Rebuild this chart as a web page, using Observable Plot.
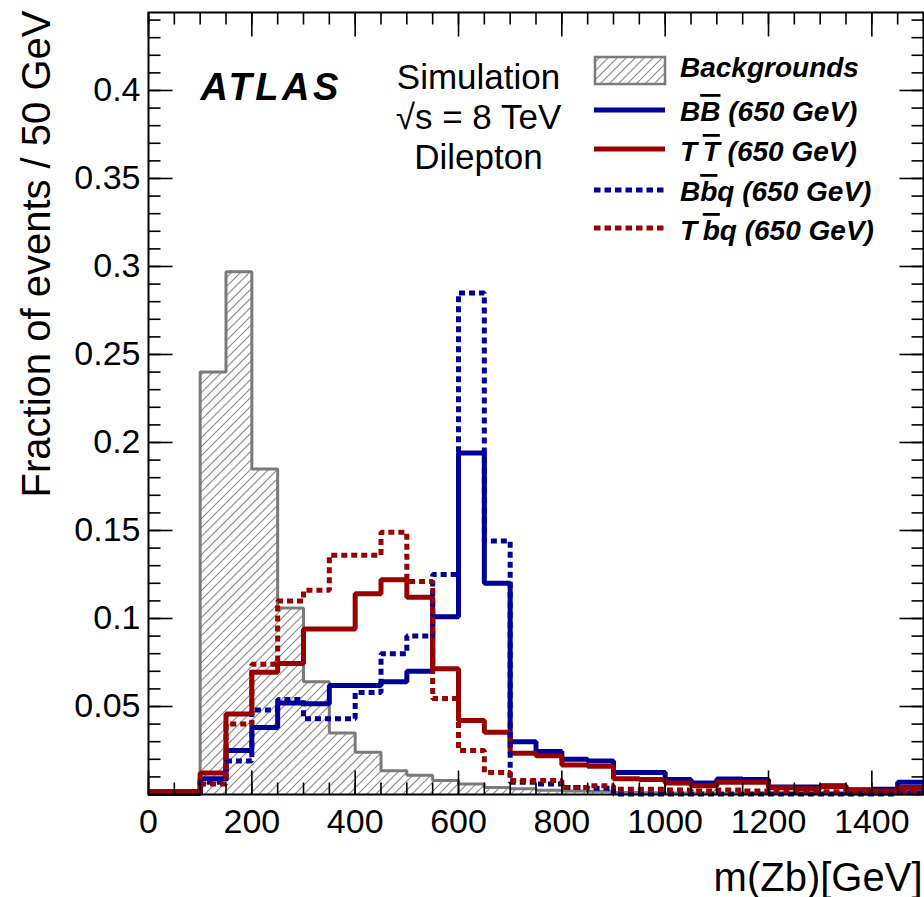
<!DOCTYPE html>
<html>
<head>
<meta charset="utf-8">
<script src="https://cdn.jsdelivr.net/npm/d3@7"></script>
<script src="https://cdn.jsdelivr.net/npm/@observablehq/plot@0.6"></script>
<style>
html, body { margin: 0; padding: 0; background: #fff; }
#chart svg { display: block; }
</style>
</head>
<body>
<div id="chart"></div>
<script>
// ---- data (fraction of events per 50 GeV bin; lower bin edges) ----
const binEdges = [0, 50, 100, 150, 200, 250, 300, 350, 400, 450, 500, 550, 600, 650, 700,
                  750, 800, 850, 900, 950, 1000, 1050, 1100, 1150, 1200, 1250, 1300, 1350, 1400, 1450];
const binUpper = 1500;

const backgrounds = [0.0005, 0.0008, 0.240, 0.297, 0.185, 0.106, 0.064, 0.035, 0.024, 0.0135,
                     0.011, 0.008, 0.006, 0.004, 0.0032, 0.0024, 0.002, 0.0018, 0.0012, 0.001,
                     0.0009, 0.0008, 0.0006, 0.0005, 0.0005, 0.0004, 0.0004, 0.0003, 0.0003, 0.0003];
const BB = [0.0005, 0.0005, 0.009, 0.025, 0.038, 0.052, 0.0515, 0.062, 0.062, 0.064,
            0.070, 0.101, 0.194, 0.120, 0.030, 0.0245, 0.020, 0.019, 0.0125, 0.0125,
            0.0085, 0.0065, 0.0088, 0.0085, 0.0042, 0.0042, 0.005, 0.0027, 0.003, 0.007];
const TT = [0.0017, 0.0017, 0.0122, 0.0458, 0.0695, 0.0745, 0.094, 0.094, 0.114, 0.122,
            0.112, 0.0715, 0.042, 0.0354, 0.0235, 0.022, 0.0168, 0.016, 0.009, 0.0085,
            0.0065, 0.005, 0.007, 0.007, 0.0038, 0.0032, 0.0045, 0.0023, 0.002, 0.004];
const Bbq = [0.0005, 0.0005, 0.007, 0.019, 0.048, 0.054, 0.043, 0.043, 0.058, 0.080,
             0.090, 0.125, 0.285, 0.144, 0.007, 0.006, 0.004, 0.0035, 0.0003, 0.0003,
             0.0003, 0.0003, 0.0003, 0.0003, 0.0003, 0.0003, 0.0003, 0.0003, 0.0003, 0.001];
const Tbq = [0.0012, 0.0012, 0.006, 0.040, 0.074, 0.110, 0.116, 0.136, 0.136, 0.149,
             0.121, 0.0545, 0.025, 0.0125, 0.008, 0.008, 0.004, 0.005, 0.003, 0.003,
             0.0025, 0.002, 0.0025, 0.002, 0.0015, 0.0015, 0.0015, 0.001, 0.001, 0.002];

const xTickLabels = [0, 200, 400, 600, 800, 1000, 1200, 1400];
const yTickLabels = [0.05, 0.1, 0.15, 0.2, 0.25, 0.3, 0.35, 0.4];
const xMinorTicks = d3.range(0, 1501, 50);
const yMinorTicks = d3.range(0, 0.4443, 0.01);

const legendItems = [
  {parts: [["Backgrounds", false]], kind: "hatch"},
  {parts: [["B", false], ["B", true], [" (650 GeV)", false]], kind: "line", color: "#000099", dash: null},
  {parts: [["T", false], ["\u2009", false], ["T", true], [" (650 GeV)", false]], kind: "line", color: "#990000", dash: null},
  {parts: [["B", false], ["b", true], ["q (650 GeV)", false]], kind: "line", color: "#000099", dash: "6.5,4"},
  {parts: [["T", false], ["\u2009", false], ["b", true], ["q (650 GeV)", false]], kind: "line", color: "#990000", dash: "6.5,4"}
];

// ---- helpers ----
function steps(vals) {
  const pts = binEdges.map((x, i) => ({x, y: vals[i]}));
  pts.push({x: binUpper, y: vals[vals.length - 1]});
  return pts;
}
const FONT = "'Liberation Sans', Arial, Helvetica, sans-serif";
const tickShape = {draw(ctx, l) { ctx.moveTo(0, 0); ctx.lineTo(0, -l); }};
function ticks(data, ch, frameAnchor, len, rotate) {
  return Plot.vector(data, {
    [ch]: d => d, frameAnchor, length: len, rotate, anchor: "start",
    shape: tickShape, stroke: "black", strokeWidth: 1.6, strokeLinecap: "butt"
  });
}
const BLUE = "#000099", RED = "#990000", GRAY = "#7a7a7a";

const chart = Plot.plot({
  width: 924,
  height: 897,
  marginLeft: 148,
  marginRight: 1,
  marginTop: 12,
  marginBottom: 103,
  style: {fontFamily: FONT, background: "#fff", color: "black"},
  x: {domain: [0, 1500]},
  y: {domain: [0, 0.4443]},
  marks: [
    Plot.areaY(steps(backgrounds), {x: "x", y: "y", curve: "step-after", fill: "url(#hatch)"}),
    Plot.line(steps(backgrounds), {x: "x", y: "y", curve: "step-after", stroke: GRAY, strokeWidth: 3, strokeLinejoin: "miter", strokeLinecap: "butt"}),
    Plot.line(steps(BB), {x: "x", y: "y", curve: "step-after", stroke: BLUE, strokeWidth: 5, strokeLinejoin: "miter", strokeLinecap: "butt"}),
    Plot.line(steps(TT), {x: "x", y: "y", curve: "step-after", stroke: RED, strokeWidth: 5, strokeLinejoin: "miter", strokeLinecap: "butt"}),
    Plot.line(steps(Bbq), {x: "x", y: "y", curve: "step-after", stroke: BLUE, strokeWidth: 5, strokeDasharray: "6,4", strokeLinejoin: "miter", strokeLinecap: "butt"}),
    Plot.line(steps(Tbq), {x: "x", y: "y", curve: "step-after", stroke: RED, strokeWidth: 5, strokeDasharray: "6,4", strokeLinejoin: "miter", strokeLinecap: "butt"}),
    // inward ticks on four sides
    ticks(xMinorTicks, "x", "bottom", 12, 0),
    ticks(xTickLabels, "x", "bottom", 24, 0),
    ticks(xMinorTicks, "x", "top", 12, 180),
    ticks(xTickLabels, "x", "top", 24, 180),
    ticks(yMinorTicks, "y", "left", 12, 90),
    ticks(yTickLabels, "y", "left", 24, 90),
    ticks(yMinorTicks, "y", "right", 12, -90),
    ticks(yTickLabels, "y", "right", 24, -90),
    Plot.frame({stroke: "black", strokeWidth: 2}),
    Plot.axisX({ticks: xTickLabels, tickSize: 0, tickPadding: 14, fontSize: 34, tickFormat: d => String(d), label: null, fill: "black"}),
    Plot.axisY({ticks: yTickLabels, tickSize: 0, tickPadding: 8, fontSize: 34, tickFormat: d => String(d), label: null, fill: "black"}),
    Plot.text(["Fraction of events / 50 GeV"], {text: d => d, frameAnchor: "top-left", rotate: -90, textAnchor: "end", lineAnchor: "middle", dx: -111, dy: -2, fontSize: 40, fill: "black"}),
    Plot.text(["m(Zb)[GeV]"], {text: d => d, frameAnchor: "bottom-right", textAnchor: "end", lineAnchor: "bottom", dx: -1, dy: 96, fontSize: 40, fill: "black"}),
    Plot.text(["ATLAS"], {text: d => d, frameAnchor: "top-left", textAnchor: "start", lineAnchor: "bottom", dx: 52, dy: 87, fontSize: 38, fontWeight: "bold", fontStyle: "italic", fill: "black"}),
    Plot.text(["Simulation\n\u221As = 8 TeV\nDilepton"], {text: d => d, frameAnchor: "top-left", textAnchor: "middle", lineAnchor: "bottom", dx: 330, dy: 156, fontSize: 35, lineHeight: 1.14, fill: "black"})
  ]
});

document.getElementById("chart").appendChild(chart);

// hatch pattern
const svg = d3.select(chart);
const defs = svg.insert("defs", ":first-child");
const s = 9;
defs.append("pattern")
  .attr("id", "hatch").attr("patternUnits", "userSpaceOnUse")
  .attr("width", s).attr("height", s)
  .append("path")
  .attr("d", `M0,${s} L${s},0 M${-s / 4},${s / 4} L${s / 4},${-s / 4} M${s - s / 4},${s + s / 4} L${s + s / 4},${s - s / 4}`)
  .attr("stroke", "#8c8c8c").attr("stroke-width", 1.2).attr("fill", "none");

// ATLAS letter spacing
svg.selectAll("text").filter(function () { return this.textContent === "ATLAS"; })
  .attr("letter-spacing", 3.5);

// legend
const lg = svg.append("g").attr("font-family", FONT).attr("font-size", 28)
  .attr("font-weight", "bold").attr("font-style", "italic").attr("fill", "black")
  .attr("text-anchor", "start");
const symY = [70, 110, 149, 190, 228];
const txtY = [77, 121, 161, 201, 240];
legendItems.forEach((item, i) => {
  if (item.kind === "hatch") {
    lg.append("rect").attr("x", 595).attr("y", symY[i] - 13).attr("width", 70).attr("height", 27)
      .attr("fill", "url(#hatch)").attr("stroke", GRAY).attr("stroke-width", 2.5);
  } else {
    lg.append("line").attr("x1", 594).attr("x2", 665).attr("y1", symY[i]).attr("y2", symY[i])
      .attr("stroke", item.color).attr("stroke-width", 5)
      .attr("stroke-dasharray", item.dash);
  }
  const t = lg.append("text").attr("x", 680).attr("y", txtY[i]).attr("text-anchor", "start");
  item.parts.forEach(([str, over]) => {
    const ts = t.append("tspan").text(str);
    if (over) ts.attr("text-decoration", "overline").style("text-decoration", "overline");
  });
});
</script>
</body>
</html>
